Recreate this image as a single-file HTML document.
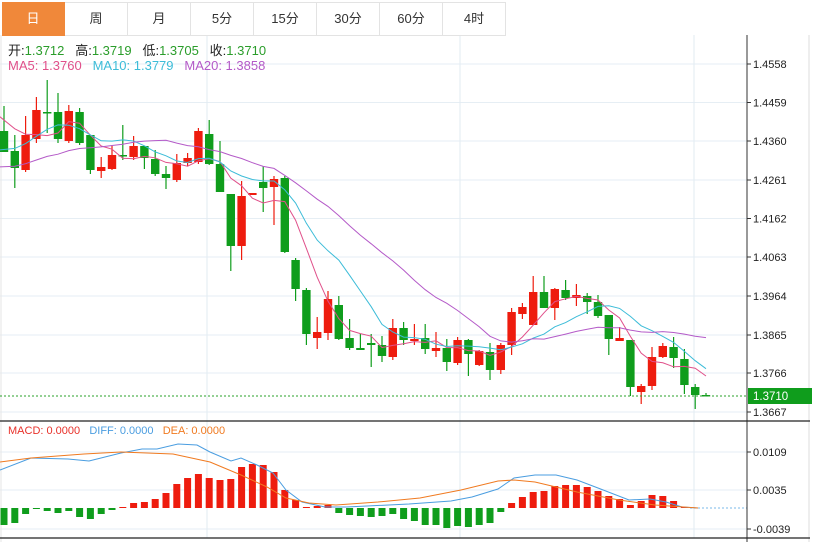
<!DOCTYPE html>
<html><head><meta charset="utf-8"><style>
body{margin:0;background:#fff;width:816px;height:542px;overflow:hidden;font-family:"Liberation Sans","Noto Sans CJK SC",sans-serif;}
.tabs{position:absolute;left:2px;top:2px;height:33px;display:flex;}
.tab{width:62px;height:32px;border:1px solid #e3e3e3;border-left:none;line-height:32px;text-align:center;font-size:13px;color:#333;}
.tab.on{background:#f0883a;color:#fff;border-color:#f0883a;}
.info{position:absolute;left:8px;font-size:13px;white-space:nowrap;}
</style></head><body>
<svg id="s" width="816" height="542" style="position:absolute;left:0;top:0" font-family="Liberation Sans, sans-serif"></svg>
<div class="tabs"><div class="tab on">日</div><div class="tab">周</div><div class="tab">月</div><div class="tab">5分</div><div class="tab">15分</div><div class="tab">30分</div><div class="tab">60分</div><div class="tab">4时</div></div>
<div class="info" style="top:40px;color:#222">开:<span style="color:#2a9d2a">1.3712</span>&nbsp;&nbsp; 高:<span style="color:#2a9d2a">1.3719</span>&nbsp;&nbsp; 低:<span style="color:#2a9d2a">1.3705</span>&nbsp;&nbsp; 收:<span style="color:#2a9d2a">1.3710</span></div>
<div class="info" style="top:58px"><span style="color:#e0508a">MA5: 1.3760</span>&nbsp;&nbsp; <span style="color:#3cbcd8">MA10: 1.3779</span>&nbsp;&nbsp; <span style="color:#b45ac8">MA20: 1.3858</span></div>
<div class="info" style="top:425px;font-size:11px"><span style="color:#e8312a">MACD: 0.0000</span>&nbsp;&nbsp; <span style="color:#4a9de0">DIFF: 0.0000</span>&nbsp;&nbsp; <span style="color:#f07a20">DEA: 0.0000</span></div>
<script>
var C=[[131,152,106,152,'G'],[151,168,135,188,'G'],[135,170,116,172,'R'],[110,139,97,143,'R'],[112,113,80,133,'G'],[112,139,93,143,'G'],[111,141,105,143,'R'],[112,143,108,145,'G'],[135,170,135,174,'G'],[167,171,157,178,'R'],
[155,169,146,170,'R'],[155,156,125,160,'G'],[146,157,136,160,'R'],[146,158,146,169,'G'],[159,174,150,176,'G'],[174,178,166,189,'G'],[163,180,154,182,'R'],[158,163,153,166,'R'],[131,162,128,164,'R'],[134,164,120,165,'G'],
[164,192,141,192,'G'],[194,246,194,271,'G'],[196,246,181,260,'R'],[193,195,193,195,'R'],[182,188,166,212,'G'],[179,187,176,225,'R'],[178,252,176,253,'G'],[260,289,258,301,'G'],[290,334,288,345,'G'],[332,338,317,349,'R'],
[299,333,291,340,'R'],[305,339,296,340,'G'],[338,348,319,350,'G'],[348,350,334,350,'G'],[343,345,334,367,'G'],[345,356,336,362,'G'],[328,357,319,360,'R'],[328,340,322,345,'G'],[339,341,324,345,'R'],[338,349,324,354,'G'],
[348,351,332,357,'R'],[348,362,339,371,'G'],[340,363,337,365,'R'],[340,354,339,376,'G'],[351,365,350,366,'R'],[352,370,343,380,'G'],[345,370,343,374,'R'],[312,345,308,355,'R'],[307,314,303,319,'R'],[292,325,276,325,'R'],
[292,308,276,308,'G'],[289,308,288,320,'R'],[290,298,280,300,'G'],[295,298,284,306,'R'],[296,302,293,314,'G'],[302,316,295,318,'G'],[315,339,315,355,'G'],[338,341,327,341,'R'],[340,387,340,396,'G'],[386,392,384,404,'R'],
[357,386,347,390,'R'],[346,357,343,358,'R'],[347,358,337,368,'G'],[359,385,349,394,'G'],[387,395,384,409,'G'],[395,396,393,396,'G']];
var M=[525,523,514,509,511,513,511,517,519,514,510,507,503,502,499,493,484,478,474,478,480,479,467,464,465,472,490,500,507,506,505,513,515,516,517,516,514,519,521,525,525,528,526,527,525,523,512,503,497,492,491,486,485,485,487,491,496,499,505,501,495,496,501,507,508,508];
var h='';
function X(i){return 4+i*10.8;}
[64,102.5,141,180,218.5,257,296,335,373,412].forEach(function(y){h+='<line x1="0" x2="747" y1="'+y+'" y2="'+y+'" stroke="#e6eef4"/>';});
[452,490,529].forEach(function(y){h+='<line x1="0" x2="747" y1="'+y+'" y2="'+y+'" stroke="#e6eef4"/>';});
[207,460,694].forEach(function(x){h+='<line x1="'+x+'" x2="'+x+'" y1="35" y2="538" stroke="#e2ebf2"/>';});
h+='<line x1="809" x2="809" y1="35" y2="542" stroke="#ddd"/><line x1="1" x2="1" y1="35" y2="542" stroke="#e6e6e6"/>';
C.forEach(function(c,i){var x=X(i),col=c[4]=='R'?'#ee1c0e':'#0f9d1c';var bh=Math.max(c[1]-c[0],1.5);
h+='<line x1="'+x+'" x2="'+x+'" y1="'+c[2]+'" y2="'+c[3]+'" stroke="'+col+'" stroke-width="1.2"/>';
h+='<rect x="'+(x-4.2)+'" y="'+c[0]+'" width="8.4" height="'+bh+'" fill="'+col+'"/>';});
var cl=[];for(var k=0;k<10;k++)cl.push(184);for(k=0;k<5;k++)cl.push(183);for(k=0;k<4;k++)cl.push(108);
C.forEach(function(c){cl.push(c[4]=='R'?c[0]:c[1]);});
function ma(n,col){var p=[];for(var i=0;i<C.length;i++){var j=i+19,s=0;for(var k=0;k<n;k++)s+=cl[j-k];p.push((i==0?0:X(i)).toFixed(1)+','+(s/n).toFixed(1));}
h+='<polyline points="'+p.join(' ')+'" fill="none" stroke="'+col+'" stroke-width="1"/>';}
ma(5,'#e0508a');ma(10,'#3cbcd8');ma(20,'#b45ac8');
h+='<line x1="0" x2="747" y1="396" y2="396" stroke="#2aa02a" stroke-dasharray="2,2"/>';
M.forEach(function(y,i){var x=X(i);if(Math.abs(y-508)<1)return;var t=Math.min(y,508),b=Math.max(y,508);
h+='<rect x="'+(x-3.5)+'" y="'+t+'" width="7" height="'+(b-t)+'" fill="'+(y<508?'#ee1c0e':'#0f9d1c')+'"/>';});
h+='<line x1="690" x2="747" y1="508" y2="508" stroke="#7ab8e8" stroke-dasharray="2,2"/>';
var D=[[0,470],[31,458],[68,459],[89,461],[121,453],[142,449],[157,449],[178,444],[197,445],[210,452],[231,461],[241,458],[257,465],[273,473],[286,490],[302,502],[325,507],[346,507],[367,506],[409,504],[451,501],[472,497],[498,489],[514,478],[535,475],[556,475],[577,480],[598,488],[629,500],[650,499],[666,502],[682,507],[698,508]];
var E=[[0,462],[31,458],[84,454],[121,452],[147,453],[173,454],[210,462],[241,475],[267,487],[286,498],[309,503],[336,505],[378,502],[420,498],[461,490],[498,481],[514,480],[535,482],[577,492],[619,500],[655,505],[698,508]];
function pl(a,c){h+='<polyline points="'+a.map(function(p){return p.join(',');}).join(' ')+'" fill="none" stroke="'+c+'" stroke-width="1"/>';}
pl(D,'#4a9de0');pl(E,'#f07a20');
h+='<line x1="747" x2="747" y1="35" y2="542" stroke="#333"/>';
h+='<line x1="0" x2="810" y1="421" y2="421" stroke="#222" stroke-width="1.3"/><line x1="0" x2="810" y1="538" y2="538" stroke="#222" stroke-width="1.3"/>';
var T=[[64,'1.4558'],[102.5,'1.4459'],[141,'1.4360'],[180,'1.4261'],[218.5,'1.4162'],[257,'1.4063'],[296,'1.3964'],[335,'1.3865'],[373,'1.3766'],[412,'1.3667'],[452,'0.0109'],[490,'0.0035'],[529,'-0.0039']];
T.forEach(function(t){h+='<line x1="747" x2="751" y1="'+t[0]+'" y2="'+t[0]+'" stroke="#333"/><text x="753" y="'+(t[0]+4)+'" font-size="11" fill="#222">'+t[1]+'</text>';});
h+='<rect x="748" y="388" width="64" height="16" fill="#0f9d1c"/><text x="753" y="400" font-size="11.5" fill="#fff">1.3710</text>';
document.getElementById('s').innerHTML=h;
</script>
</body></html>
